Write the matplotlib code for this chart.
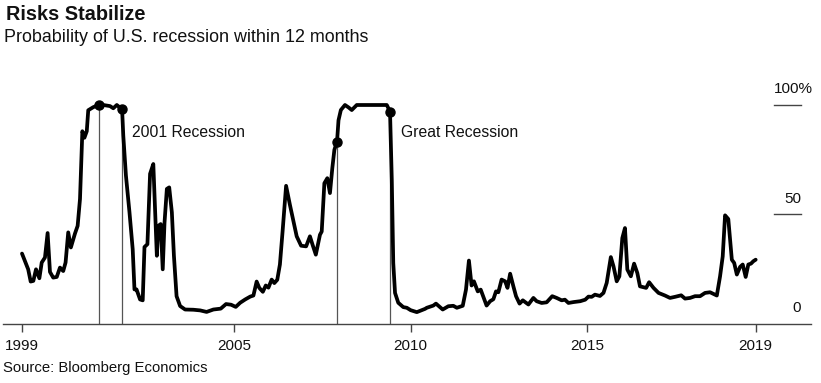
import numpy as np
import matplotlib
matplotlib.use("Agg")
import matplotlib.pyplot as plt
from matplotlib.transforms import blended_transform_factory

plt.rcParams['font.family'] = ['Liberation Sans', 'DejaVu Sans']

# ---- data: months since Jan 1999 and recession probability (%) ----
months = [0, 1, 2.1, 2.95, 3.85, 4.76, 5.9, 6.7, 7.8, 8.7, 9.5, 10.6, 11.8, 12.9, 14, 14.8,
          15.7, 16.6, 18, 18.9, 19.7, 20.5, 21.2, 22, 22.5, 24.2, 26, 27.6, 29.9, 31, 32.2,
          34, 34.4, 35.3, 36.5, 37.6, 38.2, 38.9, 40.1, 41, 41.6, 42.6, 43.5, 44.6, 45.8,
          46.3, 47.1, 47.8, 48.4, 49.2, 50, 50.9, 51.6, 52.5, 53.7, 55.4, 58.2,
          60.5, 62.7, 65, 67.5, 69.3, 71, 72.6, 74.1, 75.8, 77.5, 78.6, 79.7, 80.6, 81.8,
          82.8, 83.7, 84.8, 85.7, 86.7, 87.6, 88.5, 89.7, 91, 92.2, 93.3, 94.8, 96.5, 97.8,
          98.7, 99.8, 101.2, 101.8, 102.7, 103.7, 104.6, 105.4, 106.1, 107, 107.5, 108.3,
          109.7, 110.9, 112, 113.7, 123.9, 125, 125.6, 126.1, 126.7, 127.8,
          129.5, 130.7, 132, 134.1, 136.9, 137.5, 139.7, 140.6, 142.9, 144.8, 146.5, 147.7,
          149.7, 150.8, 151.8, 152.7, 153.5, 154.8, 155.8, 157.8, 159, 160.1, 161, 161.8,
          162.9, 164.1, 164.9, 165.8, 166.9, 167.8, 169, 170.1, 172, 173.7, 174.8, 176.5,
          178.2, 180.1, 181.6, 183.3, 184.4, 185.6, 187.3, 189.6,
          191.3, 192.4, 193.5, 194.6, 196.3, 197.5, 198.6, 200, 200.9, 202, 202.9, 203.9,
          204.8, 205.6, 206.8, 207.9, 209, 209.9, 212, 213, 214.5, 216.2, 218.4, 220.1,
          221.8, 223.9, 225.2, 226.9, 228.6, 230.3, 232, 233.7, 236, 237.1, 238, 238.8,
          239.9, 241.1, 241.9, 242.8, 243.9, 244.8, 245.8, 246.7, 247.6, 248.4, 249.2]
prob = [32, 28.6, 24.8, 19.2, 19.5, 24.8, 20.7, 27.9, 30.2, 41.4, 23.6, 21, 21.3, 25.6, 24, 27.9,
        41.7, 34.8, 41.2, 44.7, 57, 88, 85, 88, 97.6, 99, 100, 100, 99.5, 98.5, 100,
        98, 86, 67.7, 51, 34, 15.6, 15.6, 11, 10.6, 35, 36.3, 68.5, 73, 31,
        44.7, 45.5, 24.8, 46, 61.6, 62.3, 50.9, 31, 12.5, 8, 6.4, 6.3,
        6, 5.3, 6.4, 6.8, 8.9, 8.6, 7.6, 9.5, 11, 12.3, 12.8, 19.2, 16.3, 14.5,
        17.4, 16.4, 20.1, 18.5, 20, 27, 42, 63, 54.3, 46.7, 39.9, 35.6, 35.3, 39.9,
        36, 31.5, 40.6, 42.1, 64.2, 66.5, 59.7, 71.1, 79.5, 83.2, 93, 97.7,
        100, 98.9, 97.7, 100, 100, 97, 65.8, 27.7, 14, 9.5,
        7.5, 7.2, 6.1, 5.2, 6.7, 7.2, 8.2, 9.1, 6.4, 7.9, 8.1, 7.2,
        8.1, 15.5, 28.8, 17.4, 19.3, 14.7, 15.5, 8.2, 10.2, 11.1, 14.7, 14.3,
        20.1, 19.3, 16.3, 22.8, 17, 12.5, 9.1, 10.6, 8.7, 11.7, 10.2, 9.4,
        9.7, 12.5, 11.7, 10.6, 10.9, 9.4, 9.8, 10.2,
        10.9, 12.3, 12.2, 13.2, 12.6, 14, 18.6, 30.4, 26.2, 19.3, 21.6, 39.1,
        43.7, 24.7, 21.6, 27.4, 23.1, 17, 16.3, 18.9, 16.3, 14, 12.8, 11.7,
        12.2, 12.9, 11.4, 11.7, 12.5, 12.5, 14, 14.3, 12.8, 21.6, 30.7, 49.5,
        47.8, 29.2, 27.7, 22.4, 25.9, 27, 21.3, 27, 27.4, 28.5, 29.2]

# recession boundaries (months since Jan 1999): Mar 2001, Nov 2001, Dec 2007, Jun 2009
recession_months = [26, 34, 107, 125]
recession_labels = ["2001 Recession", "Great Recession"]

tick_labels = ["1999", "2005", "2010", "2015", "2019"]
tick_months = [0, 72, 132, 192, 249.2]

ytick_values = [0, 50, 100]
ytick_labels = ["0", "50", "100%"]

# ---- figure ----
W, H = 821, 383
fig = plt.figure(figsize=(W / 100, H / 100), dpi=100)

left_px, right_px = 3, 811
bottom_px = 323.5
zero_px, hundred_px = 323.5, 105.0
per_unit = (zero_px - hundred_px) / 100.0
top_px = 70
ymax = (bottom_px - top_px) / per_unit
px_per_year = 35.33
x0_px = 22  # Jan 1999
xmin = 1999 + (left_px - x0_px) / px_per_year
xmax = 1999 + (right_px - x0_px) / px_per_year

ax = fig.add_axes([left_px / W, (H - bottom_px) / H,
                   (right_px - left_px) / W, (bottom_px - top_px) / H])
ax.set_xlim(xmin, xmax)
ax.set_ylim(0, ymax)

years = 1999 + np.array(months) / 12.0
vals = np.array(prob)

ax.plot(years, vals, color='black', lw=2.7, solid_joinstyle='round',
        solid_capstyle='round', zorder=3)

rec_years = 1999 + np.array(recession_months) / 12.0
rec_vals = np.interp(rec_years, years, vals)
ax.vlines(rec_years, 0, rec_vals, color='#555555', lw=0.9, zorder=2)
ax.plot(rec_years, rec_vals, 'o', color='black', ms=6.5, zorder=4)

ax.text(rec_years[1] + 0.27, 87.2, recession_labels[0], fontsize=11.3,
        ha='left', va='center', color='#111111')
ax.text(rec_years[3] + 0.3, 87.2, recession_labels[1], fontsize=11.3,
        ha='left', va='center', color='#111111')

# spines
for s in ['top', 'right', 'left']:
    ax.spines[s].set_visible(False)
ax.spines['bottom'].set_color('#444444')
ax.spines['bottom'].set_linewidth(1.0)
ax.set_yticks([])
ax.set_xticks(1999 + np.array(tick_months) / 12.0)
ax.set_xticklabels(tick_labels, fontsize=11, color='#111111')
ax.tick_params(axis='x', direction='out', length=6, width=1.0, color='#444444', pad=5)

# right-side value labels with short lines
trans = blended_transform_factory(ax.transAxes, ax.transData)
lx0 = (774 - left_px) / (right_px - left_px)
lx1 = (801 - left_px) / (right_px - left_px)
for v, lab in zip(ytick_values, ytick_labels):
    if v != 0:
        ax.plot([lx0, lx1], [v, v], color='#444444', lw=1.0, transform=trans,
                clip_on=False)
    if lab.endswith('%'):
        ax.text(lx0, v + 7.2, lab, transform=trans, ha='left', va='center',
                fontsize=11, color='#111111')
    else:
        ax.text(lx1, v + 7.2, lab, transform=trans, ha='right', va='center',
                fontsize=11, color='#111111')

fig.text(6 / W, 1 - 14 / H, "Risks Stabilize", fontsize=14.3, fontweight='bold',
         ha='left', va='center', color='#111111')
fig.text(4 / W, 1 - 38 / H, "Probability of U.S. recession within 12 months",
         fontsize=12.9, ha='left', va='center', color='#111111')
fig.text(3 / W, 1 - 368 / H, "Source: Bloomberg Economics", fontsize=10.7,
         ha='left', va='center', color='#111111')

fig.savefig("out.png", dpi=100)
